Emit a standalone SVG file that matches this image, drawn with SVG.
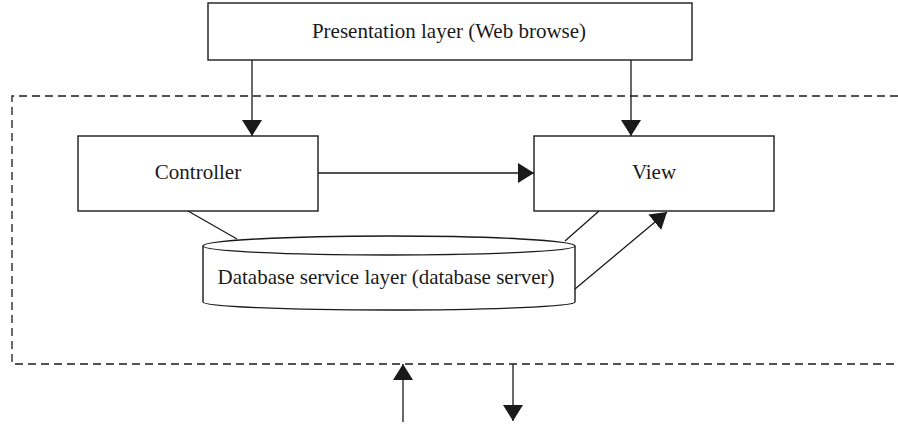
<svg xmlns="http://www.w3.org/2000/svg" width="898" height="424" viewBox="0 0 898 424">
<style>
.box{fill:#fff;stroke:#1a1a1a;stroke-width:1.4}
.ln{fill:none;stroke:#1a1a1a;stroke-width:1.3}
.dash{fill:none;stroke:#1a1a1a;stroke-width:1.3;stroke-dasharray:8 5}
.t{font-family:"Liberation Serif","Times New Roman",serif;font-size:21px;fill:#1a1a1a;text-anchor:middle;dominant-baseline:central}
</style>
<defs>
<marker id="ah" viewBox="0 0 16 20" refX="16" refY="10" markerWidth="16" markerHeight="20" markerUnits="userSpaceOnUse" orient="auto">
<path d="M0,0 L16,10 L0,20 Z" fill="#1a1a1a"/>
</marker>
</defs>
<path class="dash" d="M898,96 H12 V364 H898"/>
<g id="presentation">
<rect class="box" x="208" y="3" width="484" height="57"/>
<text class="t" x="449" y="31">Presentation layer (Web browse)</text>
</g>
<g id="controller">
<rect class="box" x="78" y="136" width="240" height="75"/>
<text class="t" x="198" y="172">Controller</text>
</g>
<g id="view">
<rect class="box" x="534" y="136" width="240" height="75"/>
<text class="t" x="654" y="172">View</text>
</g>
<g id="database">
<path class="box" d="M203,246 V302 A186,8 0 0 0 575,302 V246 A186,10 0 0 0 203,246 Z"/>
<path class="ln" d="M203,246 A186,9 0 0 0 575,246"/>
<text class="t" x="386" y="277">Database service layer (database server)</text>
</g>
<g id="connectors">
<line class="ln" x1="252" y1="60" x2="252" y2="136" marker-end="url(#ah)"/>
<line class="ln" x1="631" y1="60" x2="631" y2="136" marker-end="url(#ah)"/>
<line class="ln" x1="318" y1="173" x2="534" y2="173" marker-end="url(#ah)"/>
<line class="ln" x1="188" y1="211" x2="237" y2="239"/>
<line class="ln" x1="599" y1="211" x2="565" y2="241"/>
<line class="ln" x1="575" y1="289" x2="667" y2="212" marker-end="url(#ah)"/>
<line class="ln" x1="403" y1="422" x2="403" y2="364" marker-end="url(#ah)"/>
<line class="ln" x1="513" y1="364" x2="513" y2="421" marker-end="url(#ah)"/>
</g>
</svg>
